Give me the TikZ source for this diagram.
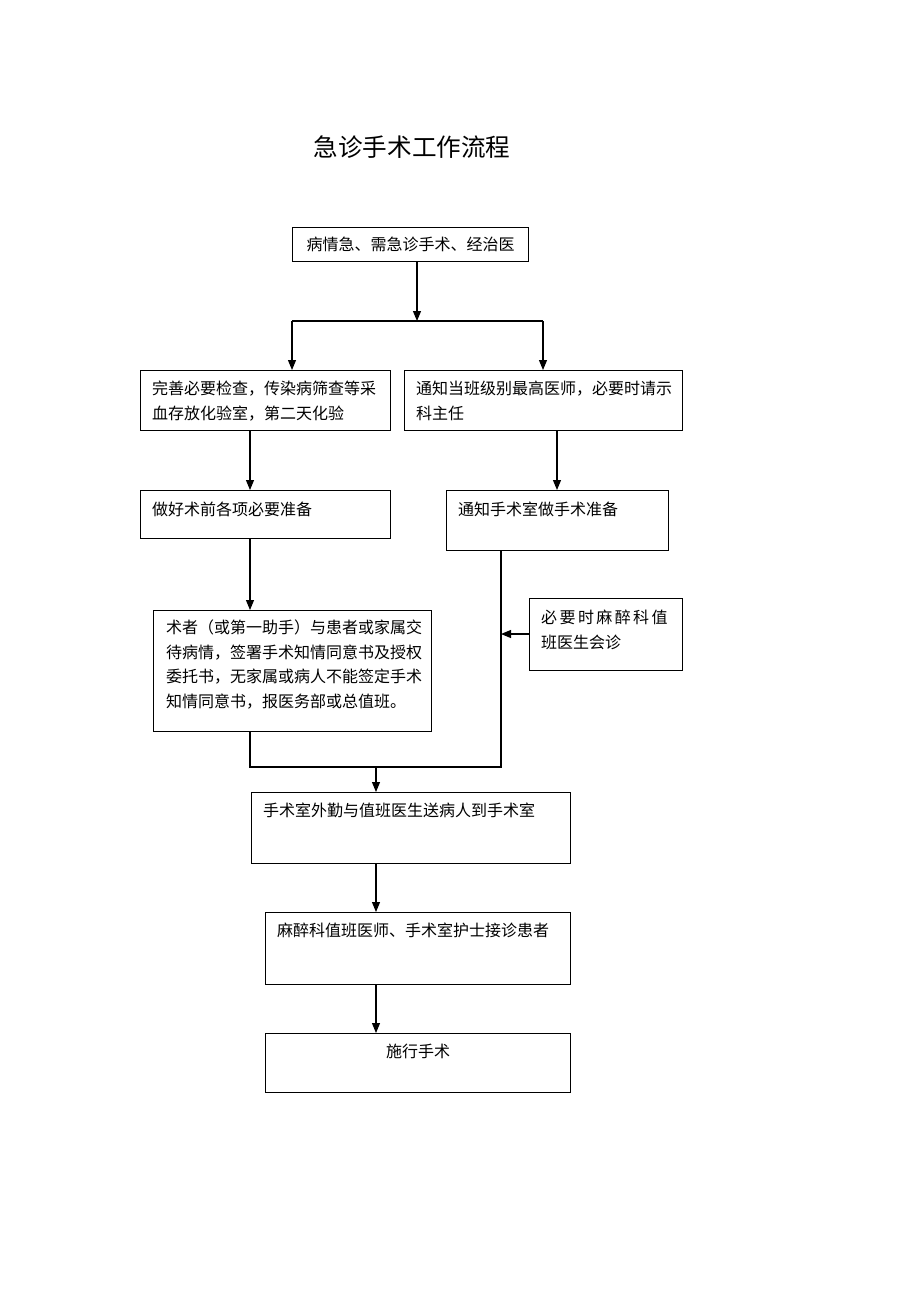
\documentclass[tikz,border=0pt]{standalone}
\usepackage{fontspec}
\setmainfont{Noto Sans CJK SC}
\usetikzlibrary{arrows.meta}
\begin{document}
\begin{tikzpicture}[x=1pt,y=-1pt,
  box/.style={draw=black,line width=1.1pt,rectangle,inner sep=0pt,anchor=north west},
  txt/.style={anchor=north west,inner sep=0pt,align=left,font=\fontsize{16}{24.5}\selectfont},
  conn/.style={draw=black,line width=1.1pt},
  arr/.style={conn,-{Triangle[length=10pt,width=8pt]}}]
\useasboundingbox[fill=white] (0,0) rectangle (920,1302);
% title
\node[anchor=center,inner sep=0pt,font=\fontsize{24.6}{28}\selectfont] (title) at (412,147) {急诊手术工作流程};
% boxes
\node[box,minimum width=236pt,minimum height=34pt] (b1) at (292,227) {};
\node[anchor=center,inner sep=0pt,font=\fontsize{16}{24.5}\selectfont] (t1) at (b1.center) {病情急、需急诊手术、经治医};
\node[box,minimum width=250pt,minimum height=60pt] (b2) at (140,370) {};
\node[txt] (t2) at (152,381) {完善必要检查，传染病筛查等采\\血存放化验室，第二天化验};
\node[box,minimum width=278pt,minimum height=60pt] (b3) at (404,370) {};
\node[txt] (t3) at (416,381) {通知当班级别最高医师，必要时请示\\科主任};
\node[box,minimum width=250pt,minimum height=48pt] (b4) at (140,490) {};
\node[txt] (t4) at (152,502) {做好术前各项必要准备};
\node[box,minimum width=222pt,minimum height=60pt] (b5) at (446,490) {};
\node[txt] (t5) at (458,502) {通知手术室做手术准备};
\node[box,minimum width=278pt,minimum height=121pt] (b6) at (153,610) {};
\node[txt] (t6) at (166,620) {术者（或第一助手）与患者或家属交\\待病情，签署手术知情同意书及授权\\委托书，无家属或病人不能签定手术\\知情同意书，报医务部或总值班。};
\node[box,minimum width=153pt,minimum height=72pt] (b7) at (529,598) {};
\node[txt] (t7) at (541,610) {必\hspace{2.4pt}要\hspace{2.4pt}时\hspace{2.4pt}麻\hspace{2.4pt}醉\hspace{2.4pt}科\hspace{2.4pt}值\\班医生会诊};
\node[box,minimum width=319pt,minimum height=71pt] (b8) at (251,792) {};
\node[txt] (t8) at (263,803) {手术室外勤与值班医生送病人到手术室};
\node[box,minimum width=305pt,minimum height=72pt] (b9) at (265,912) {};
\node[txt] (t9) at (277,923) {麻醉科值班医师、手术室护士接诊患者};
\node[box,minimum width=305pt,minimum height=59pt] (b10) at (265,1033) {};
\node[anchor=center,inner sep=0pt,font=\fontsize{16}{24.5}\selectfont] (t10) at (418,1051) {施行手术};
% junction coordinates
\coordinate (j1) at (417,321);
\coordinate (jl) at (292,321);
\coordinate (jr) at (543,321);
\coordinate (m5) at (501,634);
\coordinate (jb) at (376,767);
\coordinate (jbl) at (250,767);
\coordinate (jbr) at (501,767);
% connectors
\draw[arr] (b1.south -| j1) -- (j1);
\draw[conn] (jl) -- (jr);
\draw[arr] (jl) -- (jl |- b2.north);
\draw[arr] (jr) -- (jr |- b3.north);
\draw[arr] (b2.south -| 250,0) -- (b4.north -| 250,0);
\draw[arr] (b3.south -| 557,0) -- (b5.north -| 557,0);
\draw[arr] (b4.south -| 250,0) -- (b6.north -| 250,0);
\draw[conn] (b6.south -| jbl) -- (jbl) -- (jbr) -- (b5.south -| jbr);
\draw[arr] (b7.west |- m5) -- (m5);
\draw[arr] (jb) -- (jb |- b8.north);
\draw[arr] (b8.south -| jb) -- (b9.north -| jb);
\draw[arr] (b9.south -| jb) -- (b10.north -| jb);
\end{tikzpicture}
\end{document}
